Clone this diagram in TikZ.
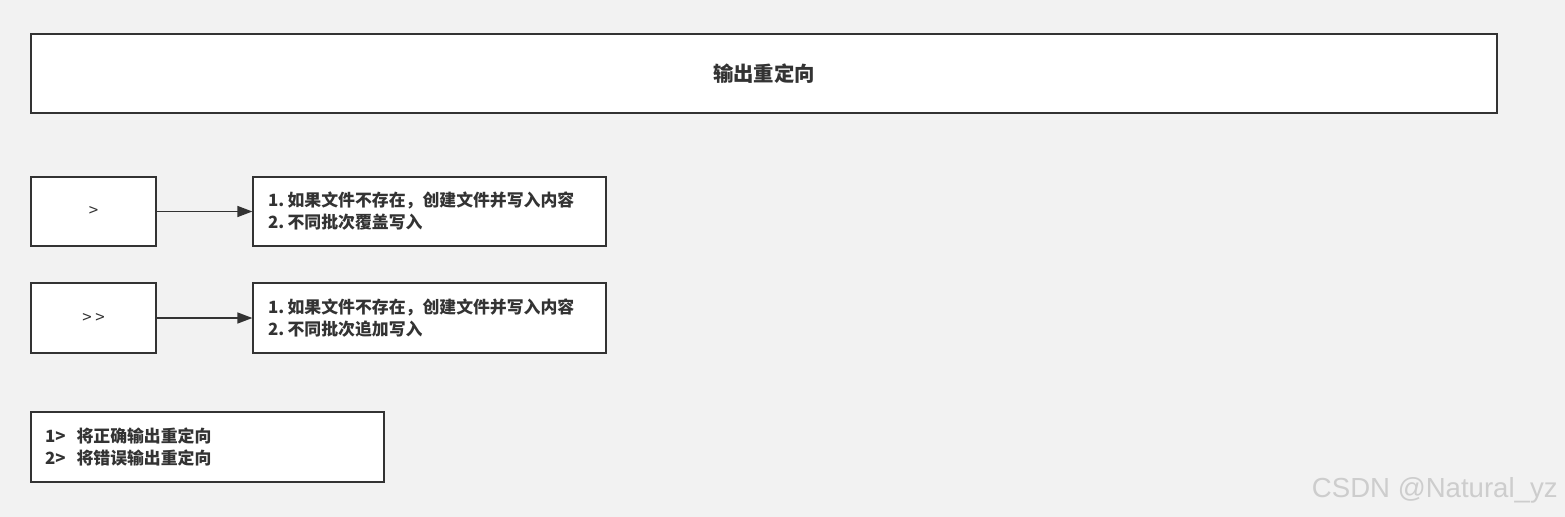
\documentclass[tikz,border=0pt]{standalone}
\usepackage{fontspec}
\setmainfont{Noto Sans CJK SC}
\newfontfamily\markfont{Liberation Sans}
\usetikzlibrary{arrows.meta}
\definecolor{bgcol}{RGB}{242,242,242}
\definecolor{linecol}{RGB}{51,51,51}
\definecolor{markcol}{RGB}{205,205,205}
\tikzset{
  box/.style={draw=linecol, fill=white, line width=0.75pt, inner sep=0pt, text=linecol},
  opbox/.style={box, minimum width=2.5cm, minimum height=1.38cm, font=\fontsize{9.6pt}{12pt}\selectfont},
  infobox/.style={box, minimum width=7.06cm, minimum height=1.38cm, text width=6.46cm, align=left,
    font=\fontsize{9.6pt}{12.5pt}\selectfont\bfseries},
  link/.style={draw=linecol, line width=0.8pt, -{Triangle[length=0.3cm,width=0.22cm]}}
}
\begin{document}
\begin{tikzpicture}[x=0.02cm, y=-0.02cm]
			%%%%% START %%%%%
			
			\fill[bgcol] (0, 0) rectangle (1565, 517);
			\useasboundingbox (0, 0) rectangle (1565, 517);
			
			\node[box, minimum width=29.32cm, minimum height=1.58cm, font=\fontsize{11.6pt}{14pt}\selectfont\bfseries] (title) at (764, 73.5) {输出重定向};
			
			\node[opbox] (over) at (93.5, 211.5) {>};
			\node[infobox] (overinfo) at (429.5, 211.5) {1.\kern0.2em 如果文件不存在，创建文件并写入内容\\2.\kern0.2em 不同批次覆盖写入};
			\draw[link] (over) -- (overinfo);
			
			\node[opbox, minimum height=1.4cm] (append) at (93.5, 318) {> >};
			\node[infobox, minimum height=1.4cm] (appendinfo) at (429.5, 318) {1.\kern0.2em 如果文件不存在，创建文件并写入内容\\2.\kern0.2em 不同批次追加写入};
			\draw[link] (append) -- (appendinfo);
			
			\node[infobox, minimum height=1.4cm, text width=6.5cm] (fd) at (207.5, 447) {1>\hspace{0.65em}将正确输出重定向\\2>\hspace{0.65em}将错误输出重定向};
			
			\node[font=\markfont\fontsize{15.7pt}{18pt}\selectfont, text=markcol, anchor=east, inner sep=0pt] (mark) at (1558, 490) {CSDN @Natural\_yz};
			
			%%%%% END %%%%%
\end{tikzpicture}
\end{document}
